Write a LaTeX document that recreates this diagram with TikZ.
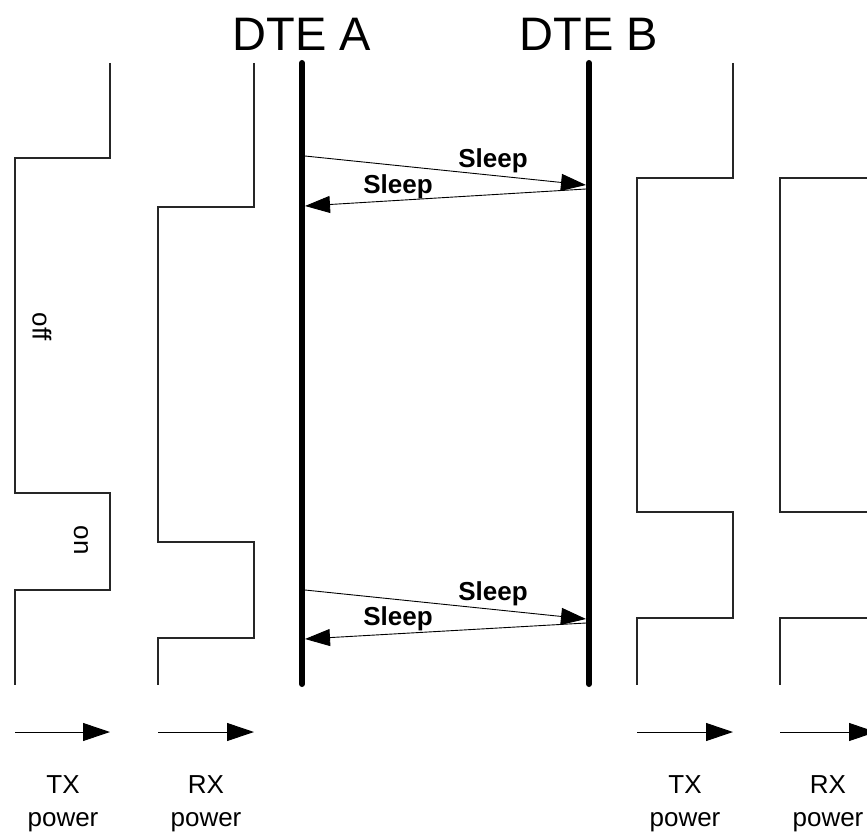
\documentclass[tikz,border=0pt]{standalone}
\usepackage{fontspec}
\setmainfont{Liberation Sans}
\usetikzlibrary{arrows.meta}
\begin{document}
\begin{tikzpicture}[x=1pt, y=-1pt,
  trace/.style={line width=1.1pt, black!85},
  life/.style={line width=6pt, line cap=round},
  msg/.style={line width=0.9pt, -{Triangle[length=25pt,width=17pt]}},
  pw/.style={line width=1pt, -{Triangle[length=27pt,width=18pt]}},
  sleeplbl/.style={font=\fontsize{26}{28}\selectfont\bfseries, anchor=base, inner sep=0pt},
  pwlbl/.style={font=\fontsize{26}{30}\selectfont, anchor=base, inner sep=0pt}]
  \useasboundingbox (0,0) rectangle (867,832);

  % 标题
  \node[font=\fontsize{47}{52}\selectfont, anchor=base, inner sep=0pt] (titleA) at (302,51) {DTE A};
  \node[font=\fontsize{47}{52}\selectfont, anchor=base, inner sep=0pt] (titleB) at (589,51) {DTE B};

  % 两条生命线
  \coordinate (A1) at (302,63);  \coordinate (A2) at (302,684);
  \coordinate (B1) at (589,63);  \coordinate (B2) at (589,684);
  \draw[life] (A1) -- (A2);
  \draw[life] (B1) -- (B2);

  % 消息端点（贴在粗线边缘）
  \coordinate (a1) at (305,156); \coordinate (b1) at (586,185);
  \coordinate (b2) at (586,189); \coordinate (a2) at (305,206);
  \coordinate (a3) at (305,590); \coordinate (b3) at (586,619);
  \coordinate (b4) at (586,623); \coordinate (a4) at (305,639);

  % 上面一对 Sleep
  \draw[msg] (a1) -- (b1);
  \draw[msg] (b2) -- (a2);
  \node[sleeplbl] (s1) at (493,167) {Sleep};
  \node[sleeplbl] (s2) at (398,193) {Sleep};

  % 下面一对 Sleep
  \draw[msg] (a3) -- (b3);
  \draw[msg] (b4) -- (a4);
  \node[sleeplbl] (s3) at (493,600) {Sleep};
  \node[sleeplbl] (s4) at (398,625) {Sleep};

  % A 侧的 TX / RX 电源波形
  \draw[trace] (110,63) -- (110,158) -- (15,158) -- (15,493) -- (110,493)
    -- (110,590) -- (15,590) -- (15,685);
  \draw[trace] (254,63) -- (254,207) -- (158,207) -- (158,542) -- (254,542)
    -- (254,638) -- (158,638) -- (158,685);
  \node[rotate=-90, font=\fontsize{26}{30}\selectfont] (off) at (42,327) {off};
  \node[rotate=-90, font=\fontsize{26}{30}\selectfont] (on) at (81,540) {on};

  % B 侧的 TX / RX 电源波形（右边一条被裁掉）
  \draw[trace] (733,63) -- (733,178) -- (637,178) -- (637,512) -- (733,512)
    -- (733,618) -- (637,618) -- (637,685);
  \draw[trace] (876,63) -- (876,178) -- (780,178) -- (780,512) -- (876,512)
    -- (876,618) -- (780,618) -- (780,685);

  % 底部箭头
  \coordinate (tA0) at (15,732);  \coordinate (tA1) at (110,732);
  \coordinate (rA0) at (158,732); \coordinate (rA1) at (254,732);
  \coordinate (tB0) at (637,732); \coordinate (tB1) at (733,732);
  \coordinate (rB0) at (780,732); \coordinate (rB1) at (876,732);
  \draw[pw] (tA0) -- (tA1);
  \draw[pw] (rA0) -- (rA1);
  \draw[pw] (tB0) -- (tB1);
  \draw[pw] (rB0) -- (rB1);

  % 底部文字
  \node[pwlbl] (txA) at (63,793) {TX};   \node[pwlbl] (txApw) at (63,826) {power};
  \node[pwlbl] (rxA) at (206,793) {RX};  \node[pwlbl] (rxApw) at (206,826) {power};
  \node[pwlbl] (txB) at (685,793) {TX};  \node[pwlbl] (txBpw) at (685,826) {power};
  \node[pwlbl] (rxB) at (828,793) {RX};  \node[pwlbl] (rxBpw) at (828,826) {power};
\end{tikzpicture}
\end{document}
